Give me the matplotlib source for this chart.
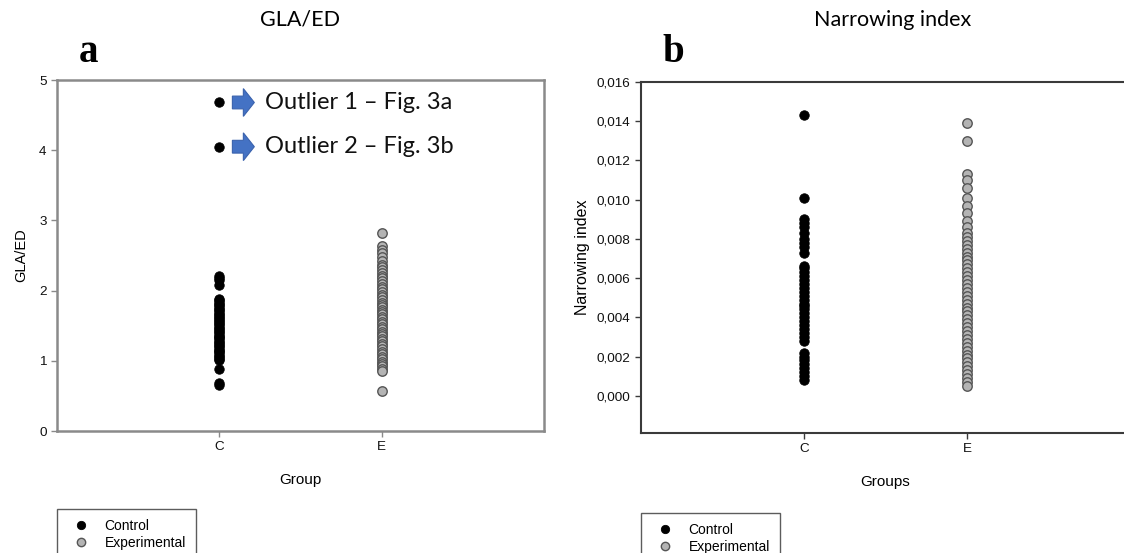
import matplotlib
matplotlib.use('Agg')
import matplotlib.pyplot as plt
from matplotlib.lines import Line2D
from matplotlib.patches import Polygon
from matplotlib.transforms import Affine2D, ScaledTranslation
import numpy as np

# ---- data ----
groups = ['C', 'E']
gla_control = [4.68, 4.05, 2.21, 2.18, 2.15, 2.08, 1.88, 1.86, 1.84, 1.81, 1.79, 1.77,
               1.74, 1.72, 1.70, 1.67, 1.65, 1.63, 1.61, 1.58, 1.56, 1.54, 1.52, 1.49,
               1.47, 1.45, 1.43, 1.41, 1.38, 1.36, 1.34, 1.32, 1.30, 1.27, 1.25, 1.23,
               1.21, 1.18, 1.16, 1.14, 1.12, 1.09, 1.07, 1.05, 1.03, 1.01, 0.88, 0.68, 0.65]
gla_experimental = [2.82, 2.63, 2.58, 2.53, 2.48, 2.42, 2.37, 2.33, 2.29, 2.25, 2.21, 2.18,
                    2.14, 2.09, 2.05, 2.02, 1.98, 1.94, 1.91, 1.87, 1.83, 1.79, 1.76, 1.72,
                    1.69, 1.66, 1.62, 1.59, 1.55, 1.52, 1.48, 1.45, 1.41, 1.38, 1.35, 1.31,
                    1.28, 1.24, 1.21, 1.17, 1.13, 1.10, 1.06, 1.03, 0.99, 0.96, 0.92, 0.88,
                    0.85, 0.57]
nar_control = [0.0143, 0.0101, 0.0090, 0.0088, 0.0086, 0.0083, 0.0080, 0.0078, 0.0076,
               0.0073, 0.0066, 0.0065, 0.0063, 0.0061, 0.0059, 0.0057, 0.0055, 0.0053,
               0.0051, 0.0049, 0.0047, 0.0046, 0.0044, 0.0042, 0.0040, 0.0038, 0.0036,
               0.0034, 0.0032, 0.0030, 0.0028, 0.0022, 0.0020, 0.0018, 0.0016, 0.0014,
               0.0012, 0.0010, 0.0008]
nar_experimental = [0.0139, 0.0130, 0.0113, 0.0110, 0.0106, 0.0101, 0.0097, 0.0093, 0.0089,
                    0.0086, 0.0083, 0.0081, 0.0079, 0.0077, 0.0075, 0.0073, 0.0071, 0.0069,
                    0.0067, 0.0065, 0.0063, 0.0061, 0.0059, 0.0057, 0.0055, 0.0053, 0.0051,
                    0.0049, 0.0047, 0.0045, 0.0043, 0.0041, 0.0039, 0.0037, 0.0035, 0.0033,
                    0.0031, 0.0029, 0.0027, 0.0025, 0.0023, 0.0021, 0.0019, 0.0017, 0.0015,
                    0.0013, 0.0011, 0.0009, 0.0007, 0.0005]
gla_ticks = [0, 1, 2, 3, 4, 5]
nar_ticks = [0.000, 0.002, 0.004, 0.006, 0.008, 0.010, 0.012, 0.014, 0.016]
outlier_labels = ['Outlier 1 \u2013 Fig. 3a', 'Outlier 2 \u2013 Fig. 3b']

plt.rcParams['font.family'] = ['Liberation Sans', 'DejaVu Sans']

fig = plt.figure(figsize=(11.24, 5.53), dpi=100)
ax1 = fig.add_axes([0.0507, 0.2206, 0.4333, 0.6347])
ax2 = fig.add_axes([0.5703, 0.2170, 0.4350, 0.6347])

black_kw = dict(marker='o', ms=6.8, mfc='black', mec='black', mew=0.6, ls='none')
grey_kw = dict(marker='o', ms=6.8, mfc='#b4b4b4', mec='#555555', mew=1.0, ls='none')


def style_axes(ax, spine_color, lw):
    for s in ax.spines.values():
        s.set_color(spine_color)
        s.set_linewidth(lw)
    ax.tick_params(direction='out', length=4, width=1, color=spine_color,
                   labelsize=9.7, labelcolor='#111111')
    ax.set_xlim(0, 3)
    ax.set_xticks([1, 2])
    ax.set_xticklabels(groups)


# ---- panel a ----
ax1.plot(np.full(len(gla_control), 1.0), gla_control, **black_kw)
ax1.plot(np.full(len(gla_experimental), 2.0), gla_experimental, **grey_kw)
style_axes(ax1, '#8a8a8a', 1.8)
ax1.set_ylim(0, 5)
ax1.set_yticks(gla_ticks)
ax1.set_ylabel('GLA/ED', fontsize=10.5, labelpad=8)
ax1.set_xlabel('Group', fontsize=11, labelpad=14)

# block arrows + notes next to the two outliers (offsets in points)
arrow_pts = np.array([[9.4, -4.6], [17.3, -4.6], [17.3, -10.0], [25.2, 0.0],
                      [17.3, 10.0], [17.3, 4.6], [9.4, 4.6]])
for yv, lab in zip(gla_control[:2], outlier_labels):
    tr = Affine2D().scale(fig.dpi / 72.0) + ScaledTranslation(1.0, yv, ax1.transData)
    ax1.add_patch(Polygon(arrow_pts, closed=True, transform=tr, fc='#4472C4',
                          ec='#3a62ad', lw=0.8, clip_on=False))
    ax1.annotate(lab, xy=(1.0, yv), xytext=(33, 0), textcoords='offset points',
                 ha='left', va='center', fontsize=17, family=['Lato', 'DejaVu Sans'],
                 color='#111111')

# ---- panel b ----
ax2.plot(np.full(len(nar_control), 1.0), nar_control, **black_kw)
ax2.plot(np.full(len(nar_experimental), 2.0), nar_experimental, **grey_kw)
style_axes(ax2, '#3a3a3a', 1.5)
ax2.set_ylim(-0.0019, 0.016)
ax2.set_yticks(nar_ticks)
ax2.set_yticklabels([f'{t:.3f}'.replace('.', ',') for t in nar_ticks])
ax2.set_ylabel('Narrowing index', fontsize=11.5, labelpad=5)
ax2.set_xlabel('Groups', fontsize=11, labelpad=14)

# ---- titles and panel letters ----
fig.text(300 / 1124, 1 - 20 / 553, 'GLA/ED', ha='center', va='center', fontsize=15.5,
         family=['Lato', 'DejaVu Sans'])
fig.text(893 / 1124, 1 - 20 / 553, 'Narrowing index', ha='center', va='center',
         fontsize=15.5, family=['Lato', 'DejaVu Sans'])
fig.text(89 / 1124, 1 - 62 / 553, 'a', ha='center', va='baseline', fontsize=28,
         fontweight='bold', family=['Liberation Serif', 'DejaVu Serif'])
fig.text(673 / 1124, 1 - 62 / 553, 'b', ha='center', va='baseline', fontsize=28,
         fontweight='bold', family=['Liberation Serif', 'DejaVu Serif'])

# ---- legends ----
handles = [Line2D([], [], **black_kw), Line2D([], [], **grey_kw)]
handles[0].set_markersize(6)
handles[1].set_markersize(6)
for x0, y0 in [(57, 509), (641, 513)]:
    leg = fig.legend(handles, ['Control', 'Experimental'], loc='upper left',
                     bbox_to_anchor=(x0 / 1124, 1 - y0 / 553), fontsize=10,
                     frameon=True, fancybox=False, handlelength=2.0, handletextpad=0.72,
                     borderpad=0.7, labelspacing=0.2, borderaxespad=0)
    leg.get_frame().set_edgecolor('#333333')
    leg.get_frame().set_linewidth(1.0)

fig.savefig('out.png', dpi=100)
